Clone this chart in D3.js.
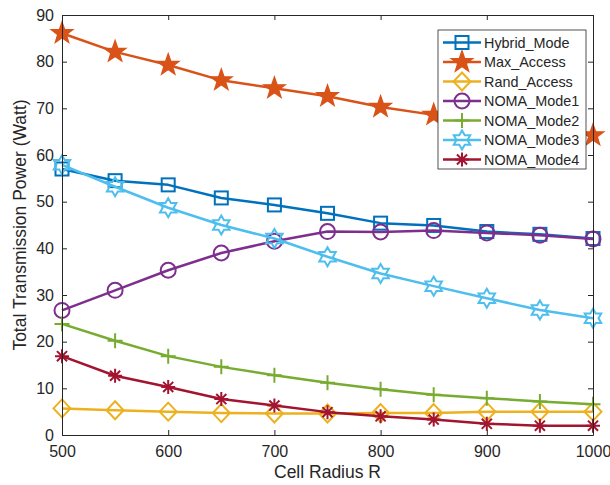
<!DOCTYPE html>
<html>
<head>
<meta charset="utf-8">
<script src="https://cdn.jsdelivr.net/npm/d3@7"></script>
<style>
  body { margin: 0; background: #fff; }
  text { font-family: "Liberation Sans", Arial, sans-serif; fill: #262626; }
</style>
</head>
<body>
<svg id="chart" width="610" height="485"></svg>
<script>
const radius = [500, 550, 600, 650, 700, 750, 800, 850, 900, 950, 1000];
const hybridMode = [57.0, 54.5, 53.6, 50.8, 49.3, 47.5, 45.4, 44.9, 43.6, 43.0, 42.1];
const maxAccess = [86.1, 82.1, 79.3, 76.0, 74.3, 72.6, 70.3, 68.6, 66.9, 65.5, 64.2];
const randAccess = [5.7, 5.3, 5.0, 4.7, 4.6, 4.6, 4.7, 4.7, 5.0, 5.0, 5.0];
const nomaMode1 = [26.7, 31.0, 35.3, 39.0, 41.5, 43.6, 43.5, 43.8, 43.3, 42.8, 42.0];
const nomaMode2 = [23.8, 20.2, 16.9, 14.6, 12.8, 11.2, 9.8, 8.6, 7.9, 7.2, 6.6];
const nomaMode3 = [57.9, 53.2, 48.7, 45.0, 42.1, 38.2, 34.6, 31.9, 29.3, 26.8, 25.0];
const nomaMode4 = [16.9, 12.7, 10.3, 7.7, 6.3, 4.9, 4.0, 3.3, 2.4, 2.0, 2.0];
const xTicks = [500, 600, 700, 800, 900, 1000];
const yTicks = [0, 10, 20, 30, 40, 50, 60, 70, 80, 90];

const series = [
  { name: 'Hybrid_Mode', values: hybridMode, color: '#0072BD', marker: 'square' },
  { name: 'Max_Access', values: maxAccess, color: '#D95319', marker: 'pentagram' },
  { name: 'Rand_Access', values: randAccess, color: '#EDB120', marker: 'diamond' },
  { name: 'NOMA_Mode1', values: nomaMode1, color: '#7E2F8E', marker: 'circle' },
  { name: 'NOMA_Mode2', values: nomaMode2, color: '#77AC30', marker: 'plus' },
  { name: 'NOMA_Mode3', values: nomaMode3, color: '#4DBEEE', marker: 'hexagram' },
  { name: 'NOMA_Mode4', values: nomaMode4, color: '#A2142F', marker: 'asterisk' }
];

const margin = { left: 62, right: 17, top: 15, bottom: 50 };
const width = 610, height = 485;
const svg = d3.select('#chart');

const x = d3.scaleLinear().domain([500, 1000]).range([margin.left, width - margin.right]);
const y = d3.scaleLinear().domain([0, 90]).range([height - margin.bottom, margin.top]);

function starPath(n, ro, ri) {
  const pts = [];
  for (let i = 0; i < n * 2; i++) {
    const r = i % 2 === 0 ? ro : ri;
    const a = -Math.PI / 2 + i * Math.PI / n;
    pts.push([r * Math.cos(a), r * Math.sin(a)]);
  }
  return 'M' + pts.map(p => p.join(',')).join('L') + 'Z';
}

function drawMarker(g, type, color) {
  const sw = 2;
  switch (type) {
    case 'square':
      g.append('rect').attr('x', -6.5).attr('y', -6.5).attr('width', 13).attr('height', 13)
        .attr('fill', 'none').attr('stroke', color).attr('stroke-width', sw);
      break;
    case 'pentagram':
      g.append('path').attr('d', starPath(5, 11, 4.4))
        .attr('fill', color).attr('stroke', color).attr('stroke-width', 1.5).attr('stroke-linejoin', 'miter');
      break;
    case 'diamond':
      g.append('path').attr('d', 'M0,-9L8.5,0L0,9L-8.5,0Z')
        .attr('fill', 'none').attr('stroke', color).attr('stroke-width', sw);
      break;
    case 'circle':
      g.append('circle').attr('r', 7.5)
        .attr('fill', 'none').attr('stroke', color).attr('stroke-width', sw);
      break;
    case 'plus':
      g.append('path').attr('d', 'M-7.5,0H7.5M0,-7.5V7.5')
        .attr('fill', 'none').attr('stroke', color).attr('stroke-width', sw);
      break;
    case 'hexagram':
      g.append('path').attr('d', starPath(6, 9.5, 5.5))
        .attr('fill', 'none').attr('stroke', color).attr('stroke-width', sw).attr('stroke-linejoin', 'miter');
      break;
    case 'asterisk': {
      const r = 7;
      let d = 'M-' + r + ',0H' + r + 'M0,-' + r + 'V' + r;
      const q = r * 0.72;
      d += 'M' + (-q) + ',' + (-q) + 'L' + q + ',' + q + 'M' + (-q) + ',' + q + 'L' + q + ',' + (-q);
      g.append('path').attr('d', d)
        .attr('fill', 'none').attr('stroke', color).attr('stroke-width', sw);
      break;
    }
  }
}

const axisColor = '#262626';
const plot = svg.append('g');

const line = d3.line()
  .x((d, i) => x(radius[i]))
  .y(d => y(d));

series.forEach(s => {
  plot.append('path')
    .datum(s.values)
    .attr('d', line)
    .attr('fill', 'none')
    .attr('stroke', s.color)
    .attr('stroke-width', 2.5)
    .attr('stroke-linejoin', 'round');
  s.values.forEach((v, i) => {
    const g = plot.append('g').attr('transform', `translate(${x(radius[i])},${y(v)})`);
    drawMarker(g, s.marker, s.color);
  });
});

// box with inward ticks on all four sides
const tickLen = 5;
const axes = svg.append('g');
axes.append('g')
  .attr('transform', `translate(0,${y(0)})`)
  .call(d3.axisBottom(x).tickValues(xTicks).tickSizeInner(-tickLen).tickSizeOuter(0)
    .tickPadding(11).tickFormat(d3.format('d')));
axes.append('g')
  .attr('transform', `translate(0,${y(90)})`)
  .call(d3.axisTop(x).tickValues(xTicks).tickSizeInner(-tickLen).tickSizeOuter(0).tickFormat(''));
axes.append('g')
  .attr('transform', `translate(${x(500)},0)`)
  .call(d3.axisLeft(y).tickValues(yTicks).tickSizeInner(-tickLen).tickSizeOuter(0).tickPadding(8));
axes.append('g')
  .attr('transform', `translate(${x(1000)},0)`)
  .call(d3.axisRight(y).tickValues(yTicks).tickSizeInner(-tickLen).tickSizeOuter(0).tickFormat(''));

axes.selectAll('.domain').attr('stroke', axisColor).attr('stroke-width', 1);
axes.selectAll('.tick line').attr('stroke', axisColor).attr('stroke-width', 1);
axes.selectAll('.tick text')
  .style('font-family', '"Liberation Sans", Arial, sans-serif')
  .style('font-size', '16px')
  .attr('fill', axisColor);

svg.append('text')
  .attr('x', (x(500) + x(1000)) / 2)
  .attr('y', 478)
  .attr('text-anchor', 'middle')
  .style('font-size', '17.5px')
  .text('Cell Radius R');

svg.append('text')
  .attr('transform', `translate(26,${(y(0) + y(90)) / 2}) rotate(-90)`)
  .attr('text-anchor', 'middle')
  .style('font-size', '17.5px')
  .text('Total Transmission Power (Watt)');

// legend
const legend = svg.append('g').attr('transform', 'translate(438,30)');
legend.append('rect')
  .attr('width', 148).attr('height', 139)
  .attr('fill', '#fff').attr('stroke', axisColor).attr('stroke-width', 0.8);
series.forEach((s, i) => {
  const row = legend.append('g').attr('transform', `translate(0,${12.5 + i * 19.5})`);
  row.append('line').attr('x1', 5).attr('x2', 43).attr('stroke', s.color).attr('stroke-width', 2.5);
  drawMarker(row.append('g').attr('transform', 'translate(24,0)'), s.marker, s.color);
  row.append('text').attr('x', 46).attr('dy', '0.35em')
    .style('font-size', '14.4px').text(s.name);
});
</script>
</body>
</html>
